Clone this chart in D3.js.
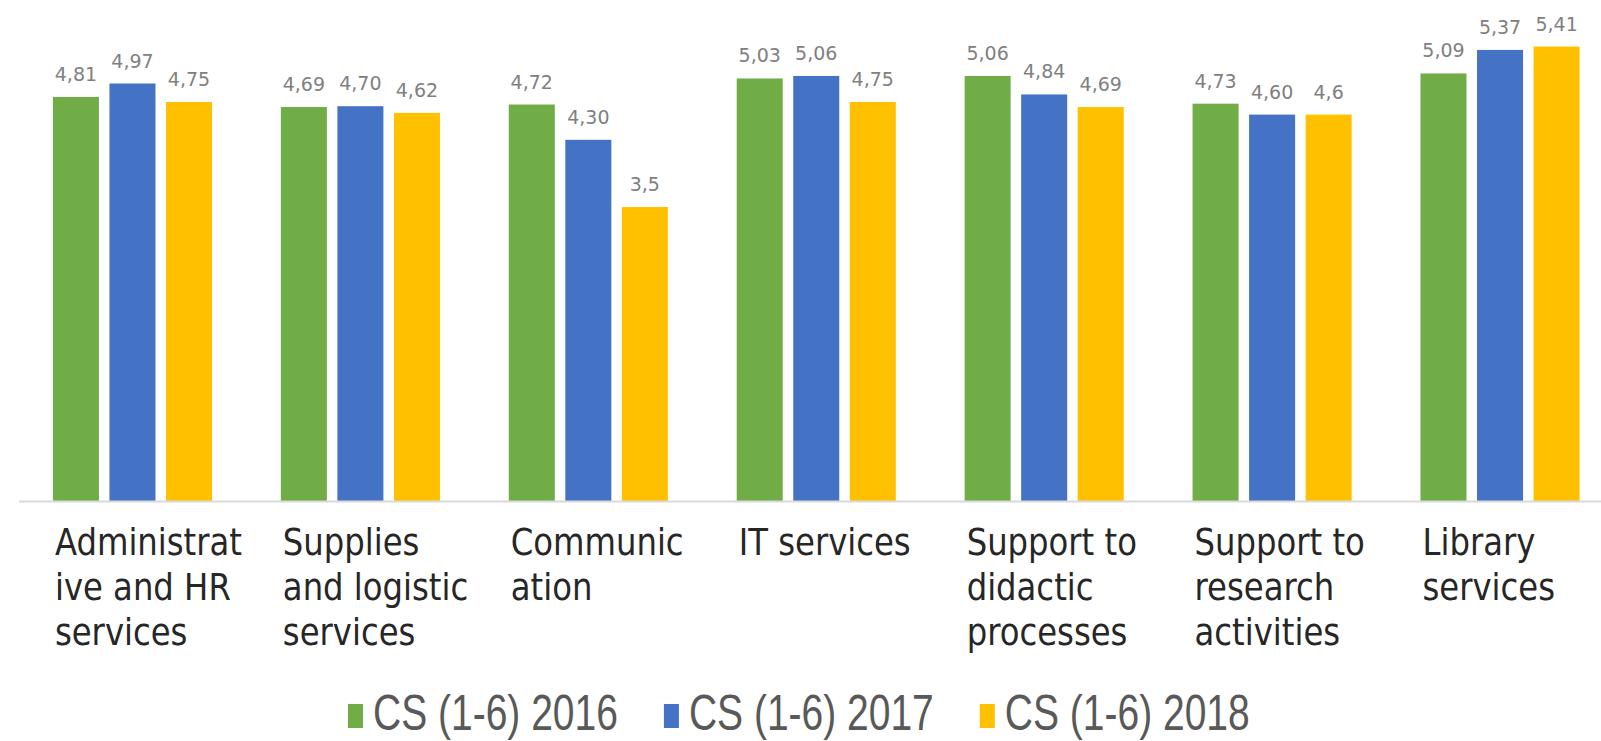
<!DOCTYPE html>
<html>
<head>
<meta charset="utf-8">
<script src="https://cdn.jsdelivr.net/npm/d3@7/dist/d3.min.js"></script>
<style>
  html, body { margin: 0; padding: 0; background: #fff; }
  svg { display: block; }
</style>
</head>
<body>
<svg id="chart" width="1601" height="741"></svg>
<script>
// ----- data -----
const categories = [
  "Administrat\nive and HR\nservices",
  "Supplies\nand logistic\nservices",
  "Communic\nation",
  "IT services",
  "Support to\ndidactic\nprocesses",
  "Support to\nresearch\nactivities",
  "Library\nservices"
];
const seriesNames = ["CS (1-6) 2016", "CS (1-6) 2017", "CS (1-6) 2018"];
const values2016 = [4.81, 4.69, 4.72, 5.03, 5.06, 4.73, 5.09];
const values2017 = [4.97, 4.70, 4.30, 5.06, 4.84, 4.60, 5.37];
const values2018 = [4.75, 4.62, 3.5, 4.75, 4.69, 4.6, 5.41];
const seriesColors = ["#70AD47", "#4472C4", "#FFC000"];
// 2016/2017 labels show two decimals, 2018 shows the value as typed
const labelDecimals = [2, 2, null];

// ----- layout -----
const W = 1601, H = 741;
const BASE_Y = 501;
const LABEL_SCALE = 0.85;   // horizontal squeeze of category labels
const LEGEND_SCALE = 0.78;  // same for legend text (narrow look)
const LINE_H = 45;

const svg = d3.select('#chart');

const allSeries = [values2016, values2017, values2018];

const x0 = d3.scaleBand()
  .domain(d3.range(categories.length))
  .range([18.5, 1614])
  .paddingInner(0.302)
  .paddingOuter(0.151);

const x1 = d3.scaleBand()
  .domain(d3.range(seriesNames.length))
  .range([0, x0.bandwidth()])
  .paddingInner(0.186);

const y = d3.scaleLinear().domain([0, 6]).range([BASE_Y, -3]);

const fmt = (v, dec) => (dec == null ? String(v) : v.toFixed(dec)).replace('.', ',');

// ----- bars -----
const groups = svg.append('g')
  .selectAll('g')
  .data(categories.map((c, i) => i))
  .join('g')
  .attr('transform', i => `translate(${x0(i)},0)`);

groups.selectAll('rect')
  .data(i => allSeries.map((s, k) => ({ k, v: s[i] })))
  .join('rect')
  .attr('x', d => x1(d.k))
  .attr('y', d => y(d.v))
  .attr('width', x1.bandwidth())
  .attr('height', d => y(0) - y(d.v))
  .attr('fill', d => seriesColors[d.k]);

// value labels
groups.selectAll('text.val')
  .data(i => allSeries.map((s, k) => ({ k, v: s[i] })))
  .join('text')
  .attr('class', 'val')
  .attr('x', d => x1(d.k) + x1.bandwidth() / 2)
  .attr('y', d => y(d.v) - 16)
  .attr('text-anchor', 'middle')
  .attr('font-family', 'DejaVu Sans, sans-serif')
  .attr('font-size', '19px')
  .attr('fill', '#808080')
  .text(d => fmt(d.v, labelDecimals[d.k]));

// ----- x axis -----
const axis = svg.append('g')
  .attr('transform', `translate(0,${BASE_Y})`)
  .call(d3.axisBottom(x0).tickSize(0).tickSizeOuter(0).tickFormat(''));

axis.select('.domain')
  .attr('stroke', '#d9d9d9')
  .attr('stroke-width', 2);

axis.selectAll('.tick text').remove();
axis.selectAll('.tick').each(function(i) {
  const lines = categories[i].split('\n');
  const t = d3.select(this).append('text')
    .attr('transform', `translate(${-x0.bandwidth() / 2 + 2},0) scale(${LABEL_SCALE},1)`)
    .attr('text-anchor', 'start')
    .attr('font-family', 'DejaVu Sans, sans-serif')
    .attr('font-size', '38px')
    .attr('fill', '#262626');
  lines.forEach((ln, j) => {
    t.append('tspan').attr('x', 0).attr('y', 54 + j * LINE_H).text(ln);
  });
});

// ----- legend -----
const SQ_W = 15, SQ_H = 24, SQ_GAP = 10, ITEM_GAP = 46, LEG_BASE = 730, LEG_X = 348;
const legend = svg.append('g');
const items = legend.selectAll('g')
  .data(seriesNames.map((n, k) => ({ n, k })))
  .join('g');

items.append('rect')
  .attr('y', LEG_BASE - SQ_H - 2)
  .attr('width', SQ_W)
  .attr('height', SQ_H)
  .attr('fill', d => seriesColors[d.k]);

items.append('text')
  .attr('transform', `translate(${SQ_W + SQ_GAP},${LEG_BASE}) scale(${LEGEND_SCALE},1)`)
  .attr('font-family', 'Liberation Sans, sans-serif')
  .attr('font-size', '50px')
  .attr('fill', '#595959')
  .text(d => d.n);

const widths = [];
items.each(function() {
  widths.push(this.getBBox().width);
});
let cursor = LEG_X;
items.attr('transform', (d, k) => {
  const tx = cursor;
  cursor += widths[k] + ITEM_GAP;
  return `translate(${tx},0)`;
});
</script>
</body>
</html>
